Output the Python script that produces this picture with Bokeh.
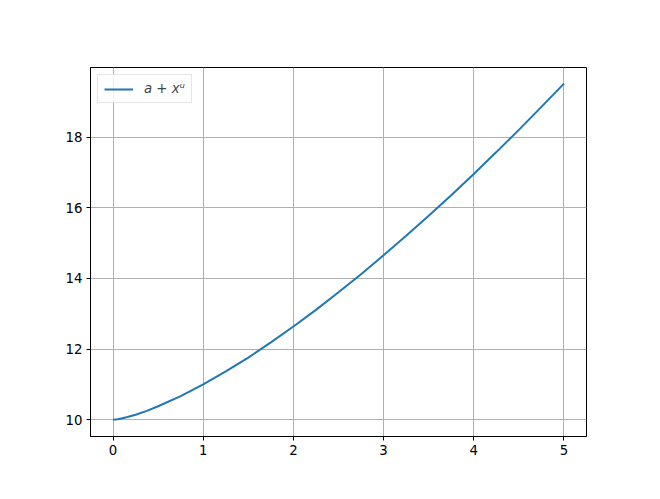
from bokeh.plotting import figure
from bokeh.models import FixedTicker, Range1d, Legend, LegendItem
from bokeh.embed import file_html
from bokeh.resources import INLINE

# data
x_vals = [0, 0.05, 0.1, 0.15, 0.2, 0.25, 0.375, 0.5, 0.75, 1, 1.25, 1.5, 1.75,
          2, 2.25, 2.5, 2.75, 3, 3.25, 3.5, 3.75, 4, 4.25, 4.5, 4.75, 5]
y_vals = [10.0, 10.015, 10.04, 10.07, 10.105, 10.14, 10.25, 10.38, 10.67, 11.0,
          11.37, 11.76, 12.19, 12.64, 13.11, 13.61, 14.12, 14.66, 15.21, 15.78,
          16.36, 16.96, 17.58, 18.21, 18.86, 19.52]
x_ticks = [0, 1, 2, 3, 4, 5]
y_ticks = [10, 12, 14, 16, 18]
series_label = "a + xᵘ"

FONT = "DejaVu Sans"

p = figure(width=644, height=480, output_backend="svg", toolbar_location=None,
           x_range=Range1d(-0.25, 5.25), y_range=Range1d(9.524, 19.976),
           min_border_left=90, min_border_top=67, min_border_right=58,
           min_border_bottom=44)
p.background_fill_color = "white"
p.border_fill_color = "white"
p.outline_line_color = "black"
p.outline_line_width = 1
p.outline_line_alpha = 1

r = p.line(x_vals, y_vals, line_color="#1f77b4", line_width=2)

for ax in (p.xaxis[0], p.yaxis[0]):
    ax.axis_line_color = "black"
    ax.major_tick_line_color = "black"
    ax.major_tick_out = 4
    ax.major_tick_in = 0
    ax.minor_tick_line_color = None
    ax.major_label_text_font = FONT
    ax.major_label_text_font_size = "13.3px"
    ax.major_label_text_color = "black"
    ax.major_label_standoff = 4
p.xaxis[0].ticker = FixedTicker(ticks=x_ticks)
p.yaxis[0].ticker = FixedTicker(ticks=y_ticks)

for g in (p.xgrid[0], p.ygrid[0]):
    g.grid_line_color = "#b0b0b0"
    g.grid_line_width = 1
p.xgrid[0].ticker = FixedTicker(ticks=x_ticks)
p.ygrid[0].ticker = FixedTicker(ticks=y_ticks)

legend = Legend(items=[LegendItem(label=series_label, renderers=[r])],
                location="top_left", margin=7, padding=6, spacing=0,
                glyph_width=29, glyph_height=14, label_standoff=11,
                label_text_font=FONT, label_text_font_size="13.3px",
                label_text_font_style="italic",
                border_line_color="#cccccc", border_line_width=1,
                background_fill_color="white", background_fill_alpha=0.8)
p.add_layout(legend, "center")

open("out.html", "w").write(file_html(p, INLINE))
